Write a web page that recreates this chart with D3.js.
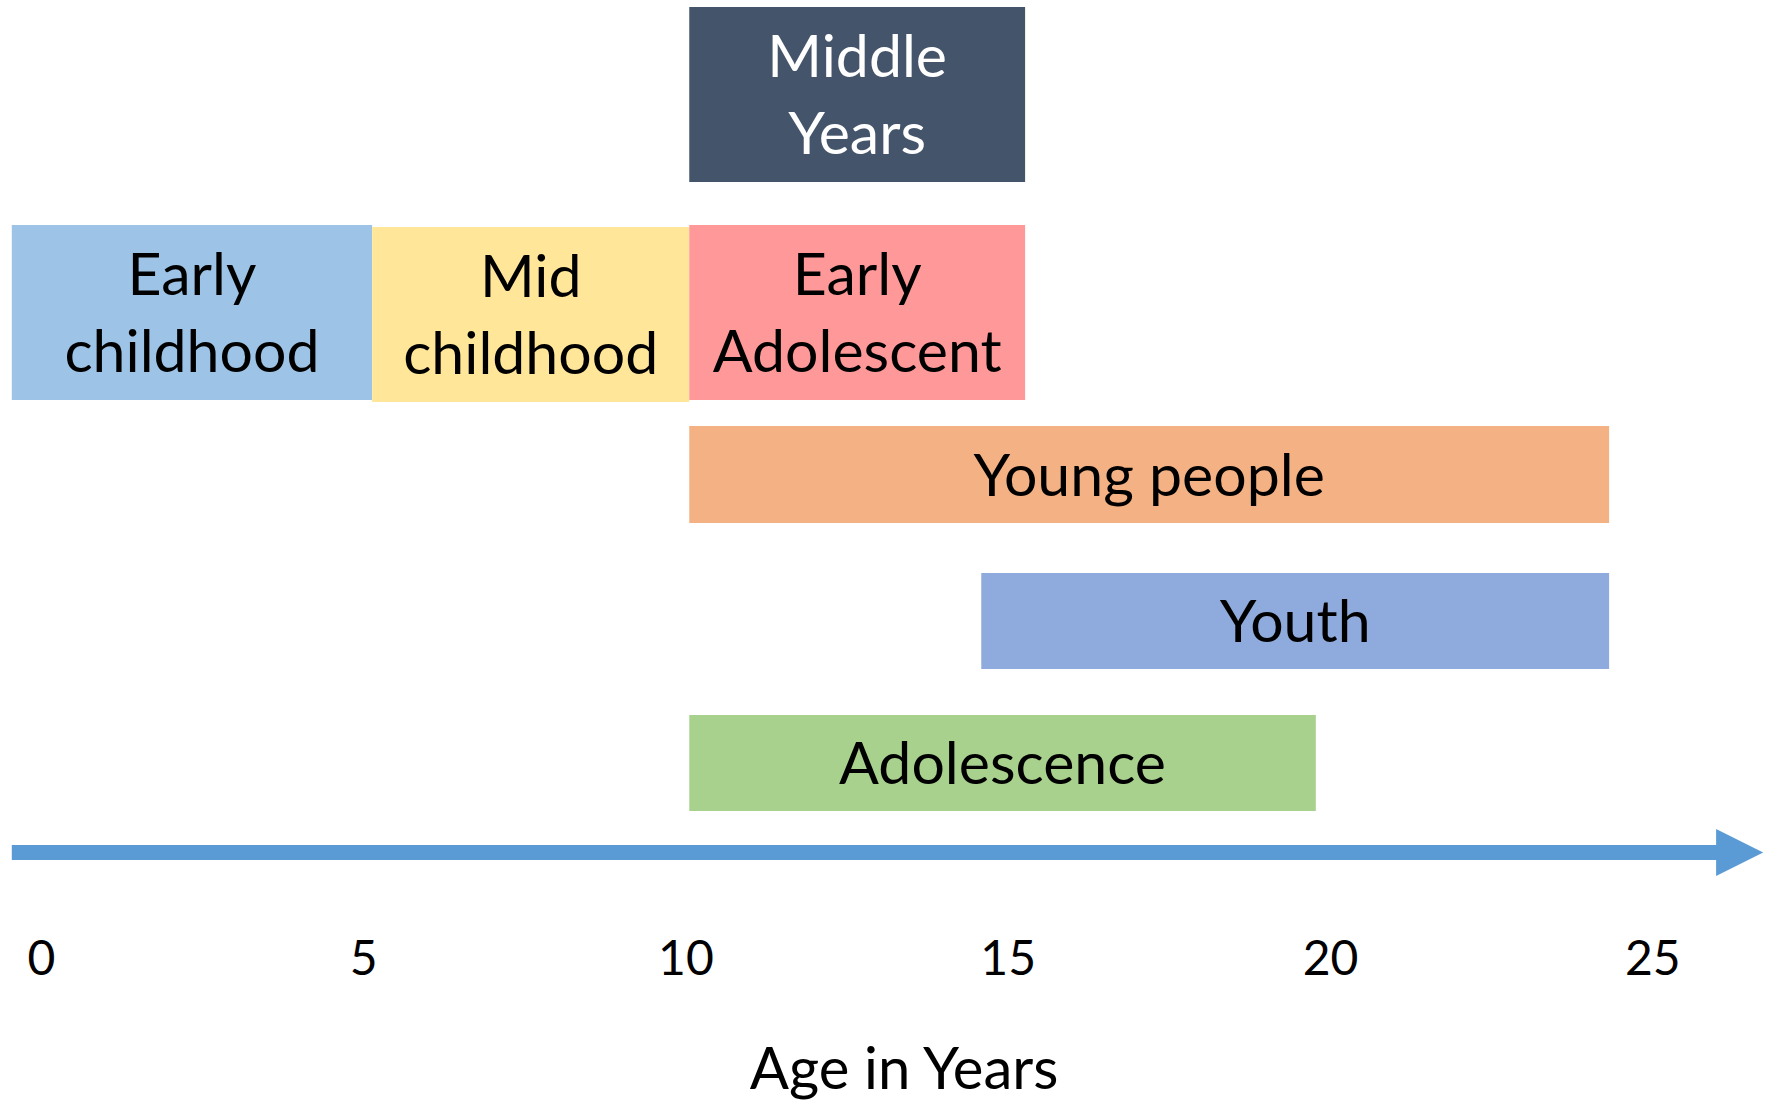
<!DOCTYPE html>
<html>
<head>
<meta charset="utf-8">
<script src="https://cdn.jsdelivr.net/npm/d3@7"></script>
<style>
  html, body { margin: 0; padding: 0; background: #ffffff; }
  svg { display: block; }
  text { font-family: Lato, "Noto Sans", sans-serif; }
</style>
</head>
<body>
<svg id="chart" width="1779" height="1101"></svg>
<script>
// ---- Data (ages in years) ----
const stages   = ["Middle Years", "Early childhood", "Mid childhood", "Early Adolescent", "Young people", "Youth", "Adolescence"];
const labels   = [["Middle", "Years"], ["Early", "childhood"], ["Mid", "childhood"], ["Early", "Adolescent"], ["Young people"], ["Youth"], ["Adolescence"]];
const ageStart = [10.06, -0.45, 5.14, 10.06, 10.06, 14.59, 10.06];
const ageEnd   = [15.27, 5.14, 10.06, 15.27, 24.33, 24.33, 19.78];
const tickValues = [0, 5, 10, 15, 20, 25];
const axisStart = -0.45, axisHeadBase = 25.99, axisTip = 26.72;
const axisTitle = "Age in Years";

// ---- Layout / style ----
const rowBand = {
  "Middle Years": [7, 182],
  "Early childhood": [225, 400],
  "Mid childhood": [227, 402],
  "Early Adolescent": [225, 400],
  "Young people": [426, 523],
  "Youth": [573, 669],
  "Adolescence": [715, 811]
};
const fills = {
  "Middle Years": "#44546A",
  "Early childhood": "#9DC3E6",
  "Mid childhood": "#FFE699",
  "Early Adolescent": "#FF9999",
  "Young people": "#F4B183",
  "Youth": "#8FAADC",
  "Adolescence": "#A9D18E"
};
const textFill = { "Middle Years": "#ffffff" };

const svg = d3.select("#chart");
const x = d3.scaleLinear().domain([0, 25]).range([40.8, 40.8 + 25 * 64.46]);

const bars = stages.map((s, i) => ({ name: s, lines: labels[i], a0: ageStart[i], a1: ageEnd[i] }));

const g = svg.append("g").selectAll("g.bar").data(bars).join("g").attr("class", "bar");
g.append("rect")
  .attr("x", d => x(d.a0))
  .attr("y", d => rowBand[d.name][0])
  .attr("width", d => x(d.a1) - x(d.a0))
  .attr("height", d => rowBand[d.name][1] - rowBand[d.name][0])
  .attr("fill", d => fills[d.name]);

const lineGap = 77;
g.each(function(d) {
  const [y0, y1] = rowBand[d.name];
  const cy = (y0 + y1) / 2;
  const n = d.lines.length;
  const firstBase = cy + 21 - (n - 1) * lineGap / 2;
  const t = d3.select(this).append("text")
    .attr("text-anchor", "middle")
    .attr("font-size", 59)
    .attr("fill", textFill[d.name] || "#000000");
  d.lines.forEach((ln, k) => {
    t.append("tspan")
      .attr("x", (x(d.a0) + x(d.a1)) / 2)
      .attr("y", firstBase + k * lineGap)
      .text(ln);
  });
});

// ---- Axis arrow ----
const shaftTop = 845, shaftBot = 860, headTop = 829, headBot = 876;
const arrow = d3.path();
arrow.moveTo(x(axisStart), shaftTop);
arrow.lineTo(x(axisHeadBase), shaftTop);
arrow.lineTo(x(axisHeadBase), headTop);
arrow.lineTo(x(axisTip), (headTop + headBot) / 2);
arrow.lineTo(x(axisHeadBase), headBot);
arrow.lineTo(x(axisHeadBase), shaftBot);
arrow.lineTo(x(axisStart), shaftBot);
arrow.closePath();
svg.append("path").attr("d", arrow.toString()).attr("fill", "#5B9BD5");

// ---- Tick labels via d3 axis ----
const axis = d3.axisBottom(x).tickValues(tickValues).tickSize(0).tickPadding(0).tickFormat(d3.format("d"));
const axG = svg.append("g").attr("transform", "translate(0,975)").call(axis);
axG.select(".domain").remove();
axG.selectAll("text")
  .attr("dy", 0).attr("y", 0)
  .attr("font-size", 48)
  .attr("font-family", "Lato, 'Noto Sans', sans-serif")
  .attr("fill", "#000000");

// ---- Axis title ----
svg.append("text")
  .attr("x", 904).attr("y", 1089)
  .attr("text-anchor", "middle")
  .attr("font-size", 58)
  .attr("fill", "#000000")
  .text(axisTitle);
</script>
</body>
</html>
